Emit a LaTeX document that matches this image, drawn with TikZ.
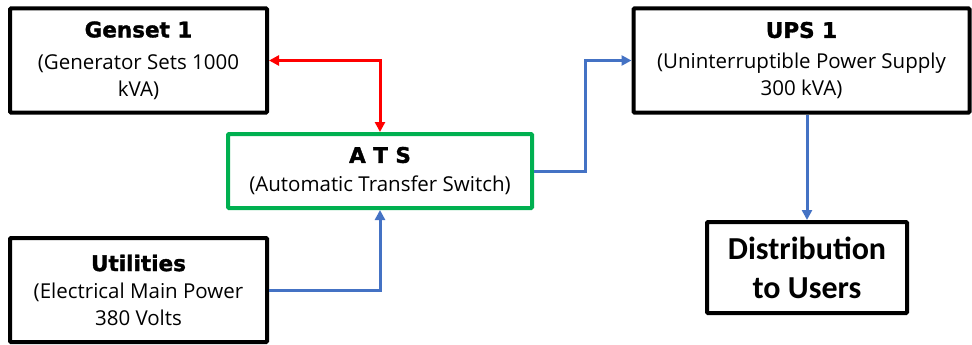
\documentclass[tikz,border=0pt]{standalone}
\usepackage{fontspec}
\setmainfont{Open Sans}
\newfontfamily\titlefont[FakeBold=1.5]{DejaVu Sans}
\newfontfamily\distfont{Carlito}
\usetikzlibrary{arrows.meta}
\definecolor{ared}{HTML}{FF0000}
\definecolor{ablue}{HTML}{4472C4}
\definecolor{agreen}{HTML}{00B050}
\tikzset{
  blk/.style={draw=black, line width=4pt, rounded corners=1pt, align=center, inner sep=0pt,
    font=\fontsize{20.5}{27}\selectfont},
  grn/.style={blk, draw=agreen},
  conn/.style={line width=3pt, -{Triangle[length=10pt,width=10pt]}},
  rconn/.style={line width=3pt, ared, {Triangle[length=10pt,width=10pt]}-{Triangle[length=10pt,width=10pt]}},
}
\newcommand{\ttl}[1]{{\titlefont\bfseries\fontsize{21.5}{27}\selectfont #1}}
\begin{document}
\begin{tikzpicture}[x=1pt,y=-1pt]
\useasboundingbox (0,0) rectangle (972,345);
\node[blk, minimum width=257pt, minimum height=104pt] (gen) at (138.5,60.5)
  {\ttl{Genset 1}\\[5pt](Generator Sets 1000\\kVA)};
\node[blk, minimum width=336pt, minimum height=104pt] (ups) at (801.5,60.5)
  {\ttl{UPS 1}\\[4pt](Uninterruptible Power Supply\\300 kVA)};
\node[grn, minimum width=304pt, minimum height=74pt] (ats) at (380,171)
  {\ttl{A T S}\\[2pt](Automatic Transfer Switch)};
\node[blk, minimum width=257pt, minimum height=104pt] (util) at (138.5,290)
  {\ttl{Utilities}\\(Electrical Main Power\\380 Volts};
\node[blk, minimum width=200pt, minimum height=91pt, font=\distfont\bfseries\fontsize{32}{39}\selectfont] (dist) at (807,267.5)
  {Distribution\\to Users};
\coordinate (bend) at (585,171);
\draw[rconn] (gen.east) -| (ats.north);
\draw[conn, ablue] (util.east) -| (ats.south);
\draw[conn, ablue] (ats.east) -- (bend) |- (ups.west);
\draw[conn, ablue] (dist.north |- ups.south) -- (dist.north);
\end{tikzpicture}
\end{document}
